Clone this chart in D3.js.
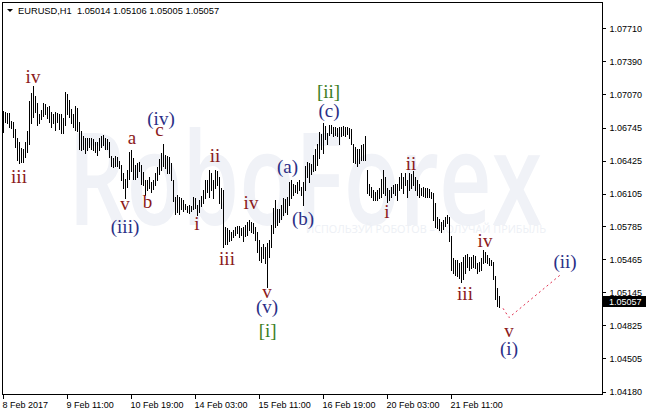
<!DOCTYPE html>
<html><head><meta charset="utf-8">
<script src="https://cdn.jsdelivr.net/npm/d3@7"></script>
<style>html,body{margin:0;padding:0;background:#fff;}svg{display:block}</style>
</head><body>
<svg id="c" width="646" height="414"></svg>
<script>
// ---------- data ----------
const symbolName = "EURUSD,H1";
const lastOHLC = [1.05014, 1.05106, 1.05005, 1.05057];
const lastPrice = 1.05057;

const highs = [
1.0691,1.0690,1.0689,1.0689,1.0681,1.0680,1.0673,1.0664,1.0661,1.0655,
1.0654,1.0661,1.0671,1.0700,1.0708,1.0715,1.0705,1.0698,1.0688,1.0692,
1.0698,1.0697,1.0695,1.0696,1.0690,1.0688,1.0690,1.0689,1.0688,1.0688,
1.0684,1.0709,1.0707,1.0701,1.0693,1.0688,1.0696,1.0694,1.0680,1.0671,
1.0666,1.0664,1.0664,1.0664,1.0664,1.0663,1.0661,1.0661,1.0664,1.0666,
1.0667,1.0664,1.0663,1.0661,1.0647,1.0645,1.0647,1.0646,1.0642,1.0638,
1.0630,1.0625,1.0633,1.0651,1.0653,1.0645,1.0638,1.0640,1.0641,1.0638,
1.0631,1.0624,1.0624,1.0627,1.0622,1.0624,1.0630,1.0636,1.0644,1.0650,
1.0659,1.0648,1.0647,1.0646,1.0640,1.0624,1.0607,1.0609,1.0607,1.0606,
1.0604,1.0600,1.0598,1.0599,1.0598,1.0607,1.0606,1.0599,1.0604,1.0608,
1.0614,1.0624,1.0624,1.0633,1.0630,1.0624,1.0633,1.0632,1.0627,1.0616,
1.0614,1.0578,1.0577,1.0575,1.0573,1.0575,1.0578,1.0579,1.0579,1.0577,
1.0578,1.0580,1.0583,1.0585,1.0583,1.0582,1.0578,1.0573,1.0565,1.0559,
1.0561,1.0559,1.0562,1.0565,1.0580,1.0596,1.0604,1.0595,1.0595,1.0599,
1.0606,1.0605,1.0607,1.0622,1.0624,1.0620,1.0619,1.0622,1.0624,1.0617,
1.0622,1.0637,1.0641,1.0640,1.0639,1.0648,1.0654,1.0659,1.0670,1.0668,
1.0679,1.0676,1.0669,1.0677,1.0677,1.0675,1.0675,1.0674,1.0675,1.0675,
1.0676,1.0675,1.0675,1.0674,1.0673,1.0659,1.0656,1.0654,1.0654,1.0658,
1.0659,1.0666,1.0633,1.0620,1.0617,1.0614,1.0612,1.0614,1.0616,1.0625,
1.0633,1.0627,1.0616,1.0614,1.0617,1.0619,1.0620,1.0620,1.0627,1.0630,
1.0627,1.0630,1.0624,1.0630,1.0629,1.0632,1.0627,1.0624,1.0620,1.0616,
1.0617,1.0616,1.0616,1.0615,1.0612,1.0611,1.0601,1.0588,1.0586,1.0583,
1.0585,1.0588,1.0590,1.0588,1.0569,1.0548,1.0546,1.0546,1.0543,1.0544,
1.0549,1.0551,1.0552,1.0549,1.0549,1.0551,1.0550,1.0543,1.0544,1.0548,
1.0556,1.0554,1.0551,1.0548,1.0546,1.0544,1.0530,1.0519,1.05106];

const lows = [
1.0670,1.0680,1.0679,1.0675,1.0674,1.0665,1.0656,1.0643,1.0640,1.0641,
1.0641,1.0646,1.0651,1.0659,1.0679,1.0685,1.0690,1.0677,1.0679,1.0683,
1.0686,1.0688,1.0684,1.0680,1.0675,1.0679,1.0672,1.0680,1.0673,1.0669,
1.0669,1.0677,1.0688,1.0685,1.0679,1.0675,1.0672,1.0671,1.0654,1.0653,
1.0654,1.0650,1.0653,1.0656,1.0654,1.0653,1.0651,1.0648,1.0653,1.0656,
1.0658,1.0654,1.0654,1.0646,1.0637,1.0636,1.0637,1.0637,1.0635,1.0624,
1.0616,1.0606,1.0617,1.0625,1.0632,1.0625,1.0625,1.0627,1.0632,1.0620,
1.0619,1.0609,1.0614,1.0616,1.0612,1.0615,1.0619,1.0624,1.0629,1.0633,
1.0637,1.0635,1.0630,1.0630,1.0624,1.0603,1.0591,1.0593,1.0591,1.0595,
1.0594,1.0595,1.0593,1.0592,1.0594,1.0595,1.0596,1.0590,1.0593,1.0598,
1.0601,1.0606,1.0612,1.0607,1.0614,1.0606,1.0616,1.0619,1.0601,1.0596,
1.0559,1.0561,1.0561,1.0564,1.0565,1.0568,1.0570,1.0572,1.0568,1.0570,
1.0564,1.0569,1.0570,1.0575,1.0573,1.0572,1.0565,1.0554,1.0546,1.0544,
1.0548,1.0543,1.0520,1.0549,1.0559,1.0572,1.0578,1.0580,1.0583,1.0586,
1.0590,1.0593,1.0591,1.0599,1.0606,1.0609,1.0612,1.0611,1.0614,1.0609,
1.0599,1.0614,1.0627,1.0622,1.0629,1.0632,1.0633,1.0638,1.0645,1.0654,
1.0650,1.0663,1.0659,1.0667,1.0669,1.0666,1.0667,1.0666,1.0659,1.0666,
1.0667,1.0666,1.0668,1.0664,1.0659,1.0641,1.0640,1.0637,1.0640,1.0643,
1.0643,1.0643,1.0611,1.0609,1.0607,1.0604,1.0604,1.0604,1.0606,1.0607,
1.0611,1.0609,1.0602,1.0604,1.0607,1.0611,1.0609,1.0604,1.0614,1.0616,
1.0611,1.0619,1.0607,1.0614,1.0616,1.0619,1.0614,1.0609,1.0607,1.0609,
1.0608,1.0607,1.0607,1.0607,1.0606,1.0585,1.0578,1.0577,1.0575,1.0573,
1.0576,1.0579,1.0582,1.0564,1.0536,1.0533,1.0531,1.0530,1.0528,1.0525,
1.0527,1.0533,1.0539,1.0536,1.0538,1.0539,1.0538,1.0533,1.0535,1.0536,
1.0543,1.0544,1.0543,1.0541,1.0541,1.0527,1.0508,1.0501,1.05005];

const priceTicks = [1.07710,1.07390,1.07070,1.06745,1.06425,1.06105,1.05785,1.05465,1.05145,1.04825,1.04505,1.04180];
const timeTickBars = [0, 32, 64, 96, 128, 160, 192, 224];
const timeTickLabels = ["8 Feb 2017","9 Feb 11:00","10 Feb 19:00","14 Feb 03:00","15 Feb 11:00","16 Feb 19:00","20 Feb 03:00","21 Feb 11:00"];

// wave labels: text, bar index, price at baseline, degree
const waveText  = ["iv","iii","a","(iv)","c","ii","(a)","v","b","(iii)","i","iii","iv","v","(v)","[i]","(b)","[ii]","(c)","ii","i","iv","iii","v","(i)","(ii)"];
const waveBar   = [15,8,64.5,79,78.2,106,142.3,61,72.3,61,97,112,124,132,132,132.3,150,162.8,163,204,192,241,231,253,253,281];
const wavePrice = [1.0718,1.0621,1.0659,1.0677,1.0666,1.0641,1.0630,1.05945,1.0596,1.05725,1.0575,1.0541,1.0595,1.0509,1.0494,1.0471,1.0580,1.0703,1.0685,1.0633,1.0587,1.0559,1.0507,1.0471,1.0454,1.0538];
const waveDegree= ["m","m","m","p","m","m","p","m","m","p","m","m","m","m","p","b","p","b","p","m","m","m","m","m","p","p"];

// forecast path (future bars)
const forecastBar   = [250, 253, 279];
const forecastPrice = [1.0499, 1.0490, 1.0532];

// ---------- drawing ----------
const svg = d3.select("#c");
const plot = {l:2, t:2, r:602, b:394};
const x = d3.scaleLinear().domain([0, 300]).range([3, 603]);
const y = d3.scaleLinear().domain([1.04180, 1.07710]).range([391.7, 28.3]);
const axisFont = "'Liberation Sans', Arial, sans-serif";
const serif = "'Liberation Serif', 'Times New Roman', serif";

svg.append("rect").attr("width",646).attr("height",414).attr("fill","#fff");

// watermark
const wm = svg.append("g").attr("pointer-events","none");
wm.append("text").attr("x",68).attr("y",225)
  .attr("font-family","'Open Sans', Lato, sans-serif").attr("font-weight",600)
  .attr("font-size",128).attr("textLength",474).attr("lengthAdjust","spacingAndGlyphs")
  .attr("fill","#f0f2f7").text("RoboForex");
wm.append("text").attr("x",306).attr("y",233)
  .attr("font-family","'Open Sans', sans-serif").attr("font-size",11)
  .attr("textLength",240).attr("lengthAdjust","spacingAndGlyphs")
  .attr("fill","#edf0f5").text("ИСПОЛЬЗУЙ РОБОТОВ – ПОЛУЧАЙ ПРИБЫЛЬ");

// bars
const bars = highs.map((h,i)=>({i, h, l: lows[i]}));
svg.append("g").attr("shape-rendering","crispEdges")
  .selectAll("rect").data(bars).join("rect")
  .attr("x", d=>Math.round(x(d.i)))
  .attr("y", d=>Math.round(y(d.h)))
  .attr("width",1)
  .attr("height", d=>Math.max(1, Math.round(y(d.l))-Math.round(y(d.h))+1))
  .attr("fill","#000");

// forecast dotted line
const fc = forecastBar.map((b,k)=>[b, forecastPrice[k]]);
svg.append("path")
  .attr("d", d3.line().x(d=>x(d[0])).y(d=>y(d[1]))(fc))
  .attr("fill","none").attr("stroke","#e0304f").attr("stroke-width",1)
  .attr("stroke-dasharray","2,3");

// wave labels
const colors = {m:"#8b1a1a", p:"#2b2f86", b:"#3c7d1e"};
const wl = svg.append("g").attr("font-family",serif).attr("font-size",19).attr("text-anchor","middle");
waveText.forEach((t,k)=>{
  wl.append("text").attr("x", x(waveBar[k])).attr("y", y(wavePrice[k]))
    .attr("fill", colors[waveDegree[k]]).text(t);
});

// frame
svg.append("rect").attr("x",plot.l+0.5).attr("y",plot.t+0.5)
  .attr("width",plot.r-plot.l).attr("height",plot.b-plot.t)
  .attr("fill","none").attr("stroke","#000").attr("shape-rendering","crispEdges");

// y axis
const yAxis = d3.axisRight(y).tickValues(priceTicks).tickSize(3).tickPadding(4)
  .tickFormat(d3.format(".5f"));
const ya = svg.append("g").attr("transform",`translate(${plot.r+0.5},0)`).call(yAxis);
ya.select(".domain").remove();
ya.selectAll("text").attr("font-family",axisFont).attr("font-size",9).attr("fill","#000");
ya.selectAll("line").attr("stroke","#000").attr("shape-rendering","crispEdges");

// x axis
const xAxis = d3.axisBottom(x).tickValues(timeTickBars).tickSize(4).tickPadding(3)
  .tickFormat((d,k)=>timeTickLabels[k]);
const xa = svg.append("g").attr("transform",`translate(0,${plot.b+0.5})`).call(xAxis);
xa.select(".domain").remove();
xa.selectAll("text").attr("font-family",axisFont).attr("font-size",9).attr("fill","#000")
  .attr("text-anchor","start").attr("dx","-1");
xa.selectAll("line").attr("stroke","#000").attr("shape-rendering","crispEdges");

// current price tag
const py = y(lastPrice);
svg.append("rect").attr("x",plot.r+1).attr("y",Math.round(py)-5).attr("width",646-plot.r-1).attr("height",11).attr("fill","#000");
svg.append("text").attr("x",plot.r+7).attr("y",Math.round(py)+3.5)
  .attr("font-family",axisFont).attr("font-size",9).attr("fill","#fff").text(d3.format(".5f")(lastPrice));

// header
svg.append("path").attr("d","M7,9 L13,9 L10,12 Z").attr("fill","#000");
svg.append("text").attr("x",18).attr("y",14).attr("font-family",axisFont).attr("font-size",9.3)
  .attr("fill","#000").attr("xml:space","preserve")
  .text(symbolName + "  " + lastOHLC.map(d3.format(".5f")).join(" "));
</script>
</body></html>
